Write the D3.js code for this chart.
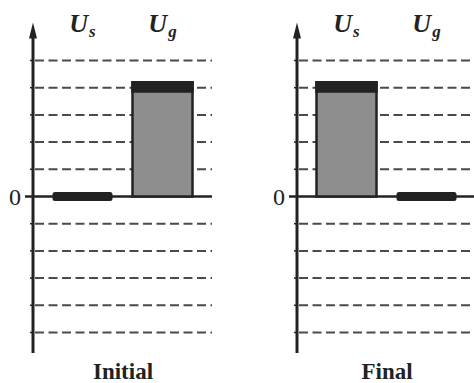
<!DOCTYPE html>
<html>
<head>
<meta charset="utf-8">
<script src="https://cdn.jsdelivr.net/npm/d3@7"></script>
<style>
  html, body { margin: 0; padding: 0; background: #fff; }
  svg { display: block; }
</style>
</head>
<body>
<svg id="chart" width="474" height="383"></svg>
<script>
// Energy levels of the two quantities before and after the transfer
const panels = ["Initial", "Final"];
const quantities = ["s", "g"];              // subscripts of U
const initialValues = [0, 4.2];
const finalValues = [4.2, 0];
const panelValues = [initialValues, finalValues];
const gridLevels = [-5, -4, -3, -2, -1, 1, 2, 3, 4, 5];
const zeroTick = [0];
const capDepth = 0.34;                      // thickness of the dark level marker

const svg = d3.select("#chart");

const y = d3.scaleLinear().domain([-5, 5]).range([332.5, 60.5]);
const panelX = d3.scaleBand().domain(panels).range([0, 528]);
const x = d3.scaleBand().domain(quantities).range([33, 212])
  .paddingInner(0.25).paddingOuter(0.24375);
const axisX = x.range()[0];
const axisEnd = x.range()[1];

const ink = "#222";
const serif = "'Liberation Serif', 'DejaVu Serif', serif";

panels.forEach((name, pi) => {
  const g = svg.append("g").attr("transform", `translate(${panelX(name)},0)`);
  const vals = panelValues[pi];

  // dashed level lines
  g.selectAll("line.grid").data(gridLevels).join("line")
    .attr("class", "grid")
    .attr("x1", axisX + 2).attr("x2", axisEnd)
    .attr("y1", d => y(d)).attr("y2", d => y(d))
    .attr("stroke", "#4a4a4a").attr("stroke-width", 2)
    .attr("stroke-dasharray", "9,4.5");

  // small ticks on the left of the axis
  g.selectAll("line.tick").data(gridLevels).join("line")
    .attr("class", "tick")
    .attr("x1", axisX - 3).attr("x2", axisX)
    .attr("y1", d => y(d)).attr("y2", d => y(d))
    .attr("stroke", ink).attr("stroke-width", 1.5);

  // zero line with its tick
  g.selectAll("line.zero").data(zeroTick).join("line")
    .attr("class", "zero")
    .attr("x1", axisX - 8).attr("x2", axisEnd)
    .attr("y1", d => y(d)).attr("y2", d => y(d))
    .attr("stroke", ink).attr("stroke-width", 2.5);

  g.selectAll("text.zero").data(zeroTick).join("text")
    .attr("class", "zero")
    .attr("x", axisX - 18).attr("y", d => y(d))
    .attr("dy", "0.35em")
    .attr("text-anchor", "middle")
    .attr("font-family", serif).attr("font-size", 24)
    .attr("fill", ink)
    .text(d => d);

  // vertical axis with arrow head
  const topV = 6.4, bottomV = -5.75;
  g.append("line")
    .attr("x1", axisX).attr("x2", axisX)
    .attr("y1", y(bottomV)).attr("y2", y(topV) + 10)
    .attr("stroke", ink).attr("stroke-width", 3);
  g.append("path")
    .attr("d", `M${axisX},${y(topV)} L${axisX - 4},${y(topV) + 16} L${axisX + 4},${y(topV) + 16} Z`)
    .attr("fill", ink);

  // bars
  quantities.forEach((q, i) => {
    const v = vals[i];
    if (v > 0) {
      g.append("rect")
        .attr("x", x(q)).attr("width", x.bandwidth())
        .attr("y", y(v)).attr("height", y(0) - y(v))
        .attr("fill", "#8e8e8e")
        .attr("stroke", ink).attr("stroke-width", 2.5);
      g.append("rect")
        .attr("x", x(q)).attr("width", x.bandwidth())
        .attr("y", y(v)).attr("height", y(v - capDepth) - y(v))
        .attr("fill", ink)
        .attr("stroke", ink).attr("stroke-width", 2.5);
    } else {
      g.append("rect")
        .attr("x", x(q)).attr("width", x.bandwidth())
        .attr("y", y(v + capDepth / 2)).attr("height", y(v - capDepth / 2) - y(v + capDepth / 2))
        .attr("rx", 2.5)
        .attr("fill", ink);
    }

    // U with subscript above each column
    const t = g.append("text")
      .attr("x", x(q) + x.bandwidth() / 2)
      .attr("y", 32)
      .attr("text-anchor", "middle")
      .attr("font-family", serif)
      .attr("font-style", "italic").attr("font-weight", "bold")
      .attr("fill", ink);
    t.append("tspan").attr("font-size", 26).text("U");
    t.append("tspan").attr("font-size", 17).attr("dy", 5).attr("dx", 1).text(q);
  });

  // panel caption
  g.append("text")
    .attr("x", (axisX + axisEnd) / 2 + 0.5)
    .attr("y", 379)
    .attr("text-anchor", "middle")
    .attr("font-family", serif).attr("font-weight", "bold")
    .attr("font-size", 23)
    .attr("fill", ink)
    .text(name);
});
</script>
</body>
</html>
